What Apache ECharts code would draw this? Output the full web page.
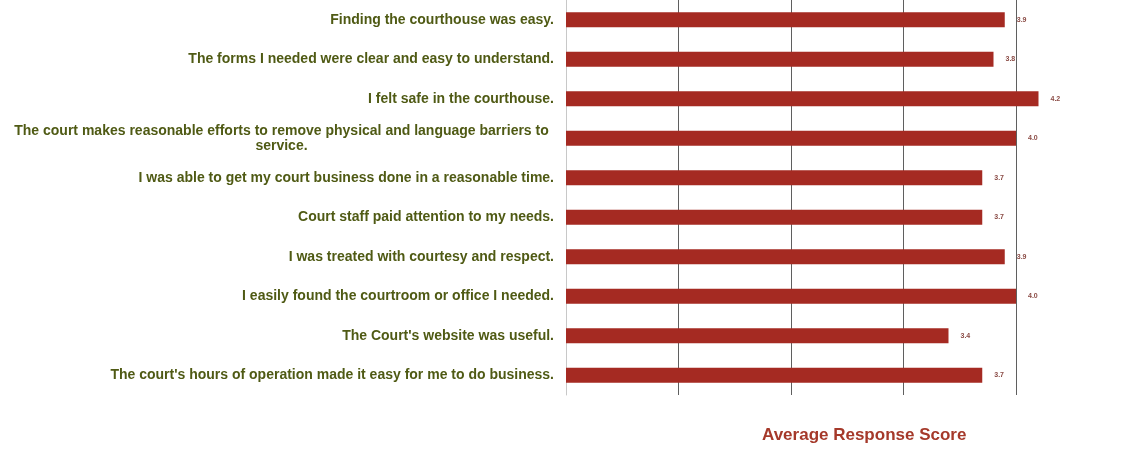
<!DOCTYPE html>
<html>
<head>
<meta charset="utf-8">
<script src="https://cdn.jsdelivr.net/npm/echarts@6/dist/echarts.min.js"></script>
<style>
  html, body { margin: 0; padding: 0; background: #ffffff; }
  #chart { width: 1121px; height: 449px; }
</style>
</head>
<body>
<div id="chart"></div>
<script>
// Survey statements, top to bottom
const statements = [
  'Finding the courthouse was easy.',
  'The forms I needed were clear and easy to understand.',
  'I felt safe in the courthouse.',
  'The court makes reasonable efforts to remove physical and language barriers to\nservice.',
  'I was able to get my court business done in a reasonable time.',
  'Court staff paid attention to my needs.',
  'I was treated with courtesy and respect.',
  'I easily found the courtroom or office I needed.',
  "The Court's website was useful.",
  "The court's hours of operation made it easy for me to do business."
];

// Average response score for each statement
const scores = [3.9, 3.8, 4.2, 4.0, 3.7, 3.7, 3.9, 4.0, 3.4, 3.7];

const axisTitle = 'Average Response Score';

const labelFont = 'Liberation Sans, Arial, sans-serif';

const chart = echarts.init(document.getElementById('chart'));

chart.setOption({
  backgroundColor: '#ffffff',
  animation: false,
  title: {
    text: axisTitle,
    left: 757,
    top: 422,
    textStyle: {
      fontFamily: labelFont,
      fontSize: 17,
      fontWeight: 'bold',
      color: '#a5392a'
    }
  },
  grid: { left: 566, top: 0, width: 450, height: 395, containLabel: false },
  xAxis: {
    type: 'value',
    min: 0,
    max: 4,
    interval: 1,
    axisLabel: { show: false },
    axisTick: { show: false },
    axisLine: { show: false },
    splitLine: { show: true, lineStyle: { color: '#5f5f5f', width: 1 } }
  },
  yAxis: {
    type: 'category',
    data: statements,
    inverse: true,
    axisTick: { show: false },
    axisLine: { show: true, lineStyle: { color: '#c8c8c8', width: 1 } },
    axisLabel: {
      margin: 12,
      fontFamily: labelFont,
      fontSize: 14,
      fontWeight: 'bold',
      color: '#4f5a14',
      lineHeight: 15,
      formatter: function (v) {
        // wrapped statements are centred line by line
        if (v.indexOf('\n') >= 0) {
          return v.split('\n').map(s => '{c|' + s + '}').join('\n');
        }
        return v;
      },
      rich: {
        c: {
          width: 545,
          align: 'center',
          fontFamily: labelFont,
          fontSize: 14,
          fontWeight: 'bold',
          color: '#4f5a14',
          lineHeight: 15
        }
      }
    }
  },
  series: [{
    type: 'bar',
    data: scores,
    barWidth: 15,
    clip: false,
    itemStyle: { color: '#a52a22' },
    label: {
      show: true,
      position: 'right',
      distance: 12,
      fontFamily: labelFont,
      fontSize: 7,
      fontWeight: 'bold',
      color: '#8a4a44',
      formatter: p => p.value.toFixed(1)
    }
  }]
});
</script>
</body>
</html>
